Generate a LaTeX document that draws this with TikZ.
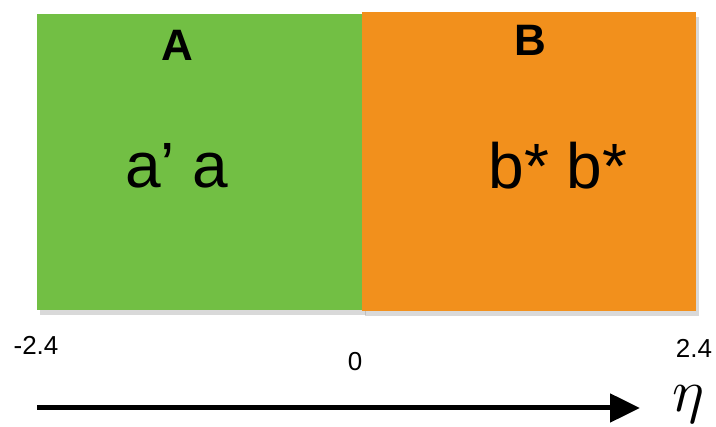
\documentclass[tikz,border=0pt]{standalone}
\usepackage{fontspec}
\setmainfont{Liberation Sans}
\usetikzlibrary{arrows.meta,shadows}
\definecolor{boxgreen}{HTML}{72BF44}
\definecolor{boxorange}{HTML}{F2901C}
\begin{document}
\begin{tikzpicture}[x=1pt,y=-1pt,
  region/.style={draw=none,inner sep=0pt,anchor=north west,
    drop shadow={opacity=0.3,shadow xshift=3pt,shadow yshift=-5pt}},
  title/.style={font=\fontsize{44}{44}\selectfont\bfseries},
  content/.style={font=\fontsize{64}{64}\selectfont},
  tick/.style={font=\fontsize{26}{26}\selectfont}]
\useasboundingbox (0,0) rectangle (716,427);
\node[region,fill=boxgreen,minimum width=326pt,minimum height=296pt] (ga) at (37,14) {};
\node[region,fill=boxorange,minimum width=334pt,minimum height=299pt] (ob) at (362,12) {};
\node[title] (la) at (177,45) {A};
\node[title] (lb) at (530,40) {B};
\node[content] (ca) at (177,166) {a’ a};
\node[content] (cb) at (558,166) {b* b*};
\node[tick] (tm) at (36,345) {-2.4};
\node[tick] (t0) at (355,362) {0};
\node[tick,inner sep=0pt] (tp) at (694,348) {2.4};
\coordinate (as) at (37,408);
\node[scale=6,inner sep=0pt] (eta) at (688,404) {$\eta$};
\coordinate (ae) at (640,408);
\draw[line width=5pt,-{Triangle[length=30pt,width=28pt]}] (as) -- (ae);
\end{tikzpicture}
\end{document}
